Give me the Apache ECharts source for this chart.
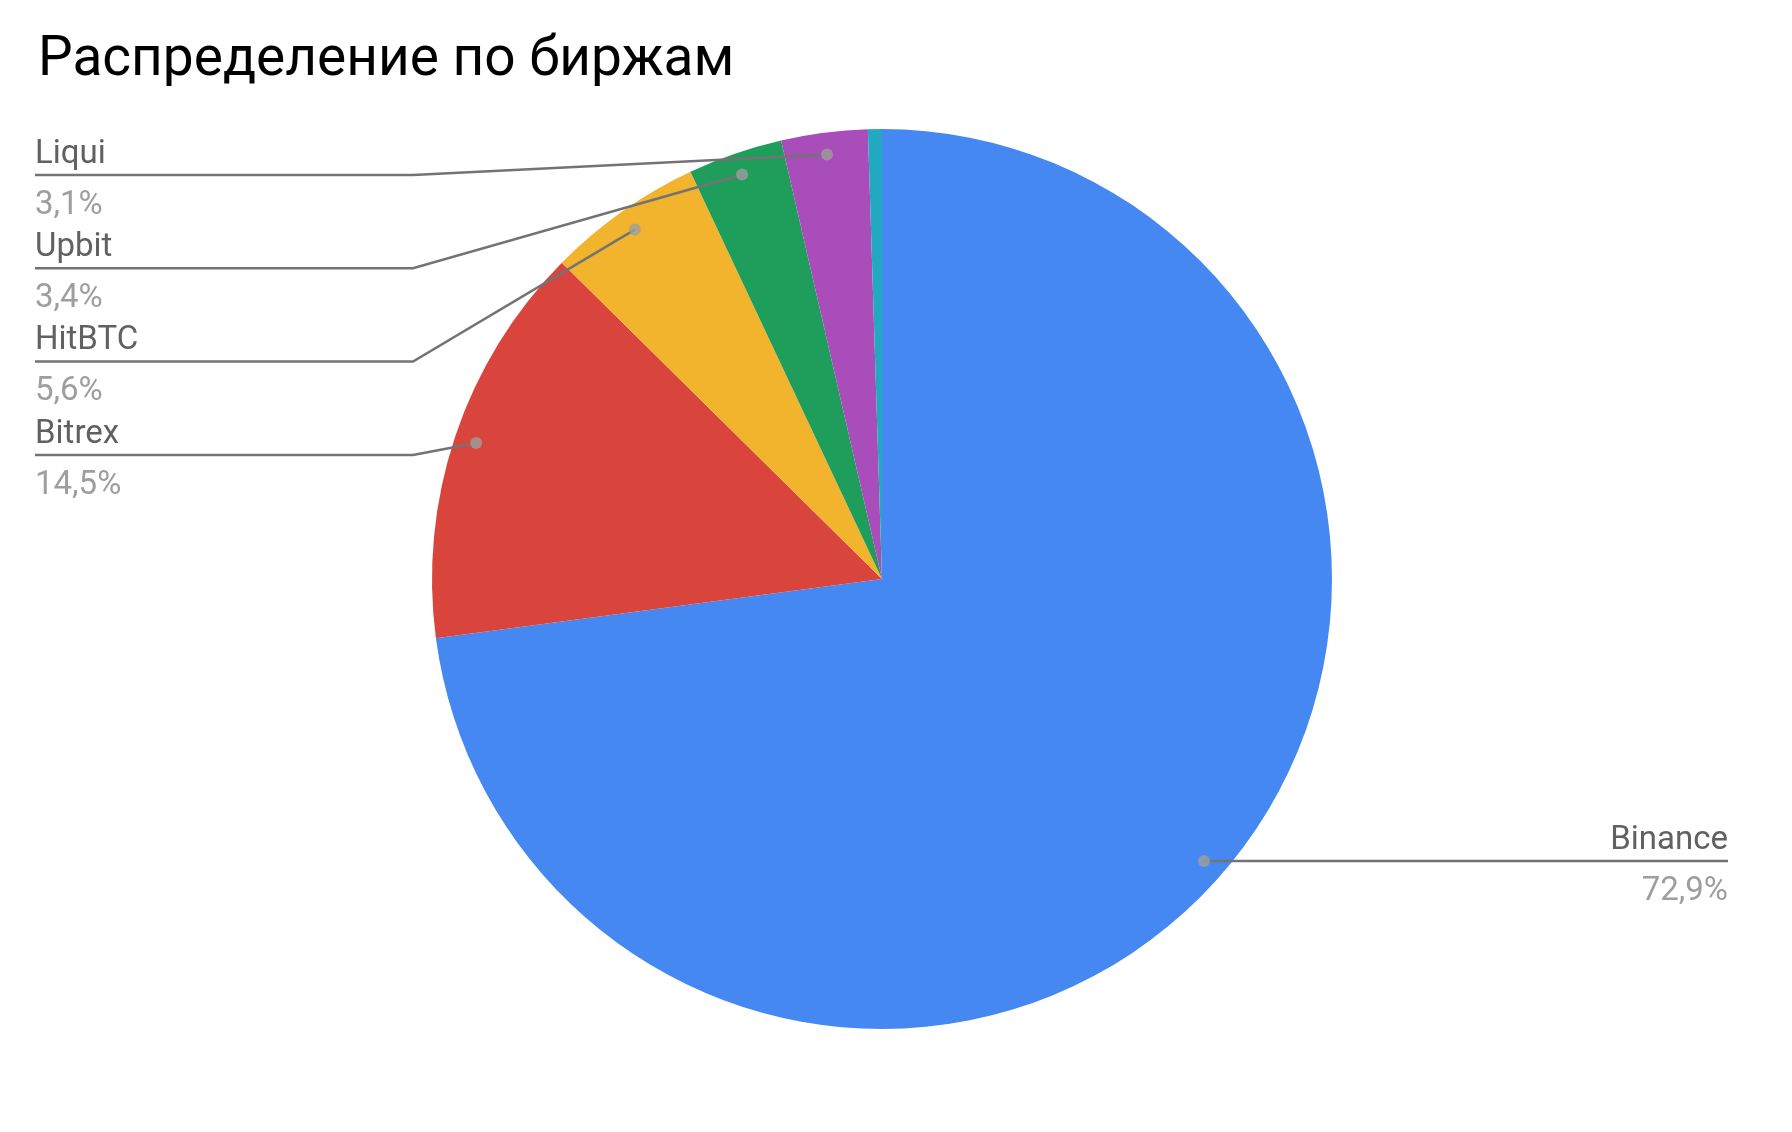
<!DOCTYPE html>
<html>
<head>
<meta charset="utf-8">
<script src="https://cdn.jsdelivr.net/npm/echarts@6/dist/echarts.min.js"></script>
<style>
html,body{margin:0;padding:0;background:#fff;}
#chart{width:1792px;height:1132px;}
</style>
</head>
<body>
<div id="chart"></div>
<script>
const titleText = 'Распределение по биржам';
const exchanges = ['Binance', 'Bitrex', 'HitBTC', 'Upbit', 'Liqui', 'Прочие'];
const shares = [72.9, 14.5, 5.6, 3.4, 3.1, 0.5];
const colors = ['#4688F2', '#D9453D', '#F2B42D', '#1F9D5B', '#A84DBA', '#22A9C1'];
const labelled = [true, true, true, true, true, false];

const total = shares.reduce((a, b) => a + b, 0);
const mids = [];
let acc = 0;
shares.forEach(v => { mids.push(acc + v / 2); acc += v; });

const CX = 882, CY = 579, R = 450, RDOT = 428;
const LEFT_X = 35, ELBOW_X = 413, TOP_LINE = 175, STEP = 93.3, RIGHT_X = 1728, TEXT_SHIFT = 5;

const chart = echarts.init(document.getElementById('chart'), null, {renderer: 'canvas'});

const fmt = v => String(v).replace('.', ',') + '%';

chart.setOption({
  backgroundColor: '#ffffff',
  animation: false,
  title: {
    text: titleText,
    left: 33,
    top: 29,
    textStyle: {fontFamily: 'Roboto', fontSize: 55, fontWeight: 'normal', color: '#000000'}
  },
  polar: {center: [CX, CY], radius: RDOT},
  angleAxis: {type: 'value', min: 0, max: total, startAngle: 90, clockwise: true, show: false},
  radiusAxis: {type: 'value', min: 0, max: 1, show: false},
  series: [
    {
      type: 'pie',
      center: [CX, CY],
      radius: R,
      startAngle: 90,
      clockwise: true,
      silent: true,
      label: {show: false},
      labelLine: {show: false},
      itemStyle: {borderWidth: 0},
      data: exchanges.map((n, i) => ({name: n, value: shares[i], itemStyle: {color: colors[i]}}))
    },
    {
      type: 'pie',
      center: [CX, CY],
      radius: RDOT,
      startAngle: 90,
      clockwise: true,
      silent: true,
      avoidLabelOverlap: false,
      z: 3,
      itemStyle: {color: 'rgba(0,0,0,0)', borderWidth: 0},
      label: {
        show: true,
        formatter: p => '{n|' + p.name + '}\n{v|' + fmt(p.value) + '}',
        rich: {
          n: {fontFamily: 'Roboto', fontSize: 33, color: '#616161', lineHeight: 51},
          v: {fontFamily: 'Roboto', fontSize: 33, color: '#9e9e9e', lineHeight: 51}
        }
      },
      labelLine: {show: true, length: 10, length2: 10, lineStyle: {color: '#737373', width: 2.5}},
      labelLayout: function (params) {
        const i = params.dataIndex;
        const pts = params.labelLinePoints;
        const p0 = pts ? pts[0] : [CX, CY];
        if (i === 0) {
          const y = p0[1];
          return {x: RIGHT_X, y: y + TEXT_SHIFT, align: 'right', verticalAlign: 'middle',
                  labelLinePoints: [p0, [p0[0] + 1, y], [RIGHT_X, y]]};
        }
        const k = 4 - i;
        const y = TOP_LINE + k * STEP;
        return {x: LEFT_X, y: y + TEXT_SHIFT, align: 'left', verticalAlign: 'middle',
                labelLinePoints: [p0, [ELBOW_X, y], [LEFT_X, y]]};
      },
      data: exchanges.map((n, i) => ({
        name: n, value: shares[i],
        label: {show: labelled[i]},
        labelLine: {show: labelled[i]}
      }))
    },
    {
      type: 'scatter',
      coordinateSystem: 'polar',
      silent: true,
      z: 5,
      symbol: 'circle',
      symbolSize: 12,
      itemStyle: {color: '#9e9e9e'},
      data: mids.map((m, i) => labelled[i] ? [1, m] : null).filter(d => d)
    }
  ]
});
</script>
</body>
</html>
